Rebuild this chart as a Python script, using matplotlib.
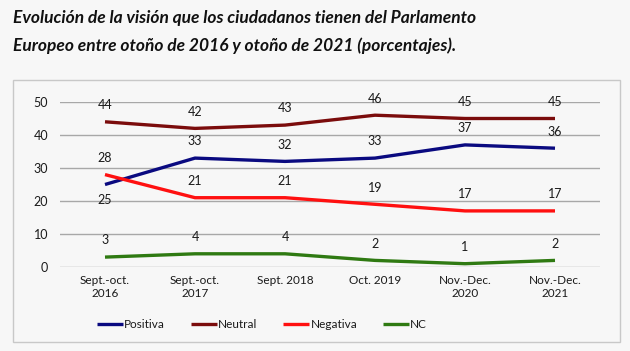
import matplotlib.pyplot as plt
from matplotlib.patches import Rectangle

periods = ["Sept.-oct.\n2016", "Sept.-oct.\n2017", "Sept. 2018", "Oct. 2019",
           "Nov.-Dec.\n2020", "Nov.-Dec.\n2021"]
positiva = [25, 33, 32, 33, 37, 36]
neutral = [44, 42, 43, 46, 45, 45]
negativa = [28, 21, 21, 19, 17, 17]
nc = [3, 4, 4, 2, 1, 2]

series = [
    ("Positiva", positiva, "#0a0a80"),
    ("Neutral", neutral, "#7b0c0c"),
    ("Negativa", negativa, "#ff1010"),
    ("NC", nc, "#2f7a12"),
]

plt.rcParams['font.family'] = ['Lato', 'DejaVu Sans']
bg = "#f7f7f7"

fig = plt.figure(figsize=(6.3, 3.51), dpi=100, facecolor=bg)
ax = fig.add_axes([60 / 630, 1 - 267 / 351, 540 / 630, 165 / 351])
ax.set_facecolor(bg)

# outer chart frame
fig.patches.append(Rectangle((13 / 630, 1 - 342 / 351), 607 / 630, 262 / 351,
                             transform=fig.transFigure, fill=False,
                             edgecolor="#c8c8c8", linewidth=1))

x = range(len(periods))
for name, vals, color in series:
    ax.plot(x, vals, color=color, linewidth=2.4, label=name,
            solid_capstyle="butt")
    for i, v in enumerate(vals):
        off = 12
        if name == "Positiva" and i == 0:
            off = -11
        ax.annotate(str(v), (i, v), xytext=(0, off), textcoords="offset points",
                    ha="center", va="center", fontsize=9, color="#1a1a1a")

ax.set_xlim(-0.5, 5.5)
ax.set_ylim(0, 50)
ax.set_yticks(range(0, 51, 10))
ax.set_xticks(list(x))
ax.set_xticklabels(periods, fontsize=8.5, color="#1a1a1a", linespacing=1.15)
ax.tick_params(axis="y", labelsize=9, labelcolor="#1a1a1a", length=0, pad=8.5)
ax.tick_params(axis="x", length=0, pad=6)
ax.grid(axis="y", color="#a8a8a8", linewidth=1)
ax.set_axisbelow(True)
for s in ax.spines.values():
    s.set_visible(False)

fig.legend(loc="center", bbox_to_anchor=(262 / 630, 1 - 325 / 351), ncol=4,
           frameon=False, fontsize=8.5, handlelength=2.2, handletextpad=0.1,
           columnspacing=2.2, labelcolor="#1a1a1a")

fig.text(13 / 630, 1 - 18 / 351,
         "Evolución de la visión que los ciudadanos tienen del Parlamento",
         fontsize=12.5, fontweight="bold", fontstyle="italic", va="center",
         color="#111111")
fig.text(13 / 630, 1 - 46 / 351,
         "Europeo entre otoño de 2016 y otoño de 2021 (porcentajes).",
         fontsize=12.5, fontweight="bold", fontstyle="italic", va="center",
         color="#111111")

fig.savefig("out.png", dpi=100, facecolor=bg)
